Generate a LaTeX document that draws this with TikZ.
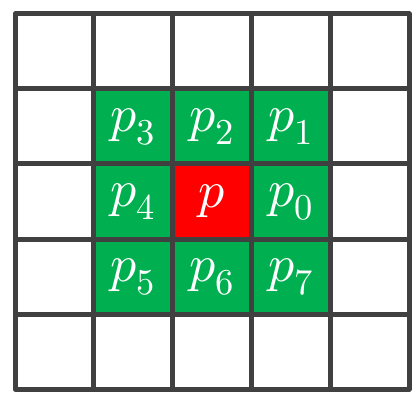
\documentclass[tikz,border=0pt]{standalone}
\usepackage{unicode-math}
\definecolor{cellgreen}{HTML}{00B050}
\definecolor{cellred}{HTML}{FF0000}
\definecolor{gridgray}{HTML}{404040}
\begin{document}
\begin{tikzpicture}[x=1pt,y=-1pt,
  cell/.style={minimum width=78.8pt,minimum height=75pt,inner sep=0pt,outer sep=0pt,text=white,font=\fontsize{52}{52}\selectfont},
  gcell/.style={cell,fill=cellgreen},
  rcell/.style={cell,fill=cellred},
  gridline/.style={draw=gridgray,line width=5pt}]
\useasboundingbox (0,0) rectangle (417,398);
% cells: column centers 54.4,133.2,212,290.8,369.6 ; row centers 51.5,126.5,201.5,276.5,351.5
\node[gcell] (p3) at (133.2,126.5) {$p_3$};
\node[gcell] (p2) at (212,126.5) {$p_2$};
\node[gcell] (p1) at (290.8,126.5) {$p_1$};
\node[gcell] (p4) at (133.2,201.5) {$p_4$};
\node[rcell] (p) at (212,201.5) {$p$};
\node[gcell] (p0) at (290.8,201.5) {$p_0$};
\node[gcell] (p5) at (133.2,276.5) {$p_5$};
\node[gcell] (p6) at (212,276.5) {$p_6$};
\node[gcell] (p7) at (290.8,276.5) {$p_7$};
\foreach \i in {0,...,5} {
  \draw[gridline] (15+78.8*\i,14) -- (15+78.8*\i,389);
  \draw[gridline] (15,14+75*\i) -- (409,14+75*\i);
}
\draw[gridline,line join=round] (15,14) rectangle (409,389);
\end{tikzpicture}
\end{document}
